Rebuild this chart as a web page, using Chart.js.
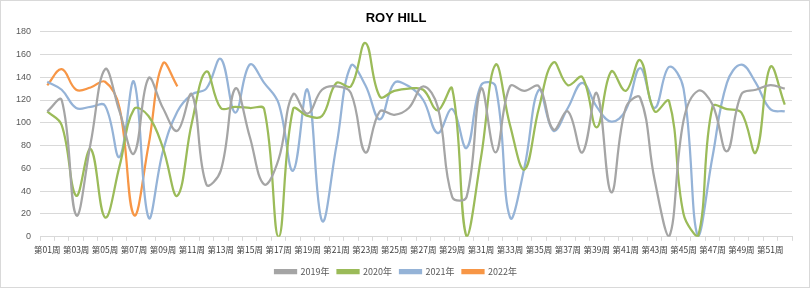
<!DOCTYPE html>
<html>
<head>
<meta charset="utf-8">
<script src="https://cdn.jsdelivr.net/npm/chart.js@4.4.1/dist/chart.umd.min.js"></script>
<style>
html,body{margin:0;padding:0;background:#fff;}
#wrap{width:810px;height:288px;position:relative;}
</style>
</head>
<body>
<div id="wrap"><canvas id="c" width="810" height="288"></canvas></div>
<script>
const weeks = [];
for (let i = 1; i <= 52; i++) weeks.push('第' + String(i).padStart(2, '0') + '周');

const yTicks = [0, 20, 40, 60, 80, 100, 120, 140, 160, 180];

const s2019 = [110,120,19,82,147,110,73,139,113,93,125,46,58,130,88,46,68,125,108,129,132,126,74,110,107,113,132,114,35,35,130,74,132,128,132,94,110,74,126,39,113,122,50,0,102,128,116,75,125,129,133,130];
const s2020 = [110,98,36,77,17,62,112,106,78,36,100,145,113,114,113,112,0,112,106,106,135,132,170,123,128,130,129,111,130,0,70,151,98,59,113,153,133,140,96,145,128,155,110,119,20,0,114,112,109,74,149,116];
const s2021 = [136,129,113,114,115,70,136,17,75,110,125,130,156,109,151,135,117,58,129,14,80,150,133,103,135,132,120,91,112,78,133,132,17,61,129,93,113,135,114,101,111,148,113,149,130,0,70,135,151,135,112,110];
const s2022 = [133,147,129,131,136,113,19,80,152,132];

const borderPlugin = {
  id: 'frame',
  afterDraw(chart) {
    const ctx = chart.ctx;
    ctx.save();
    ctx.strokeStyle = '#d9d9d9';
    ctx.lineWidth = 1;
    ctx.strokeRect(0.5, 0.5, chart.width - 1, chart.height - 1);
    ctx.restore();
  }
};

function ds(label, data, color) {
  return {
    label, data,
    borderColor: color, backgroundColor: color,
    borderWidth: 2.25, pointRadius: 0, pointHoverRadius: 0,
    tension: 0.4, fill: false, spanGaps: false
  };
}

new Chart(document.getElementById('c'), {
  type: 'line',
  data: {
    labels: weeks,
    datasets: [
      ds('2019年', s2019, '#A5A5A5'),
      ds('2020年', s2020, '#9BBB59'),
      ds('2021年', s2021, '#95B3D7'),
      ds('2022年', s2022, '#F79646')
    ]
  },
  plugins: [borderPlugin],
  options: {
    responsive: false,
    animation: false,
    devicePixelRatio: 1,
    layout: { padding: { left: 0, right: 18, top: 0, bottom: 2 } },
    plugins: {
      title: {
        display: true, text: 'ROY HILL', color: '#000',
        font: { family: 'Liberation Sans, Arial, sans-serif', size: 13, weight: 'bold' },
        padding: { top: 11, bottom: 5 }
      },
      legend: {
        position: 'bottom',
        labels: {
          boxWidth: 21, boxHeight: 3, padding: 8, color: '#595959',
          font: { family: 'Noto Sans CJK SC, sans-serif', size: 9 }
        }
      },
      tooltip: { enabled: false }
    },
    scales: {
      x: {
        offset: true,
        grid: { display: true, drawOnChartArea: false, offset: true, tickLength: 4, color: '#d9d9d9' },
        border: { display: true, color: '#d9d9d9' },
        ticks: {
          autoSkip: false, maxRotation: 0, minRotation: 0, padding: 4,
          color: '#404040',
          font: { family: 'Noto Sans CJK SC, sans-serif', size: 8.5 },
          callback: function(v, i) { return i % 2 === 0 ? weeks[i] : ''; }
        }
      },
      y: {
        min: 0, max: 180,
        afterBuildTicks: function(scale) { scale.ticks = yTicks.map(v => ({ value: v })); },
        afterFit: function(scale) { scale.width = 40; },
        grid: { color: '#d9d9d9', drawTicks: false },
        border: { display: false },
        ticks: {
          padding: 9, color: '#595959',
          font: { family: 'Liberation Sans, Arial, sans-serif', size: 9 }
        }
      }
    }
  }
});
</script>
</body>
</html>
